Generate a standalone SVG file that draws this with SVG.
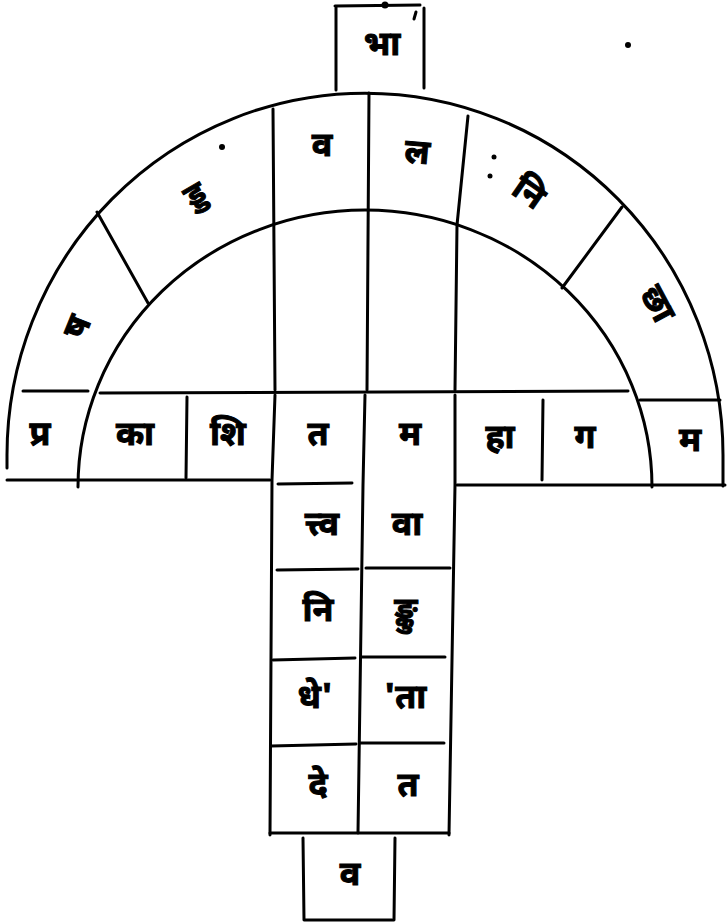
<svg xmlns="http://www.w3.org/2000/svg" width="727" height="923" viewBox="0 0 727 923">
<style>
.ln{fill:none;stroke:#000;stroke-width:3;stroke-linecap:round;stroke-linejoin:round}
.t{font-family:"Noto Sans Devanagari","Noto Sans","Lohit Devanagari",sans-serif;font-size:34px;font-weight:bold;fill:#000;stroke:#000;stroke-width:1;text-anchor:middle;dominant-baseline:central}
</style>
<rect width="727" height="923" fill="#fff"/>
<g id="connectors">
<!-- top box -->
<path class="ln" d="M335,6 L420,5 M336,6 L336,90 M424,8 L424,88 M416,12 L414,19"/>
<circle cx="385" cy="5" r="3.5"/>
<!-- outer arc -->
<path class="ln" d="M7,468 L7,455 A358 362 0 0 1 723 455 L723,486"/>
<!-- inner arc -->
<path class="ln" d="M78,487 A287 277 0 0 1 652 487"/>
<!-- radial dividers -->
<path class="ln" d="M97,212 L148,303 M622,207 L562,288"/>
<!-- verticals through ring and column -->
<path class="ln" d="M273,109 L275,390 M275,395 L272,480 L270,835 M369,93 L367,390 M365,395 L363,485 L358,833 M468,116 L457,225 L455,390 M455,395 L455,485 L449,835"/>
<!-- row lines -->
<path class="ln" d="M23,391 L88,391 M100,393 L628,391 M640,400 L720,400"/>
<path class="ln" d="M7,480 L270,480 M278,484 L352,483 M457,485 L725,485"/>
<path class="ln" d="M187,397 L186,478 M543,400 L542,480"/>
<!-- column lines -->
<path class="ln" d="M277,570 L358,569 M366,568 L450,568 M273,660 L355,658 M362,657 L445,657 M271,746 L356,744 M360,743 L444,743 M270,833 L449,833"/>
<!-- bottom box -->
<path class="ln" d="M303,838 L304,920 L392,920 M395,838 L394,920"/>
<circle cx="222" cy="147" r="3"/>
<circle cx="628" cy="45" r="3"/>
<circle cx="494" cy="157" r="2.5"/>
<circle cx="490" cy="176" r="2.5"/>
</g>
<g id="n-top"><text class="t" x="382" y="47">भा</text></g>
<g id="n-arc1"><text class="t" x="80" y="328" transform="rotate(-68 80 328)">ष</text></g>
<g id="n-arc2"><text class="t" x="197" y="198" transform="rotate(-30 197 198)">ड्ड</text></g>
<g id="n-arc3"><text class="t" x="322" y="148">व</text></g>
<g id="n-arc4"><text class="t" x="417" y="155" transform="rotate(5 417 155)">ल</text></g>
<g id="n-arc5"><text class="t" x="527" y="195" transform="rotate(35 527 195)">नि</text></g>
<g id="n-arc6"><text class="t" x="655" y="305" transform="rotate(62 655 305)">छा</text></g>
<g id="n-r1"><text class="t" x="40" y="437">प्र</text></g>
<g id="n-r2"><text class="t" x="135" y="437">का</text></g>
<g id="n-r3"><text class="t" x="228" y="437">शि</text></g>
<g id="n-r4"><text class="t" x="318" y="437">त</text></g>
<g id="n-r5"><text class="t" x="410" y="437">म</text></g>
<g id="n-r6"><text class="t" x="500" y="440">हा</text></g>
<g id="n-r7"><text class="t" x="585" y="440">ग</text></g>
<g id="n-r8"><text class="t" x="690" y="443">म</text></g>
<g id="n-c1"><text class="t" x="322" y="527">त्त्व</text></g>
<g id="n-c2"><text class="t" x="407" y="527">वा</text></g>
<g id="n-c3"><text class="t" x="318" y="613">नि</text></g>
<g id="n-c4"><text class="t" x="406" y="613">ङ्कु</text></g>
<g id="n-c5"><text class="t" x="315" y="700">धे'</text></g>
<g id="n-c6"><text class="t" x="405" y="700">'ता</text></g>
<g id="n-c7"><text class="t" x="318" y="788">दे</text></g>
<g id="n-c8"><text class="t" x="408" y="788">त</text></g>
<g id="n-bottom"><text class="t" x="350" y="877">व</text></g>
</svg>
